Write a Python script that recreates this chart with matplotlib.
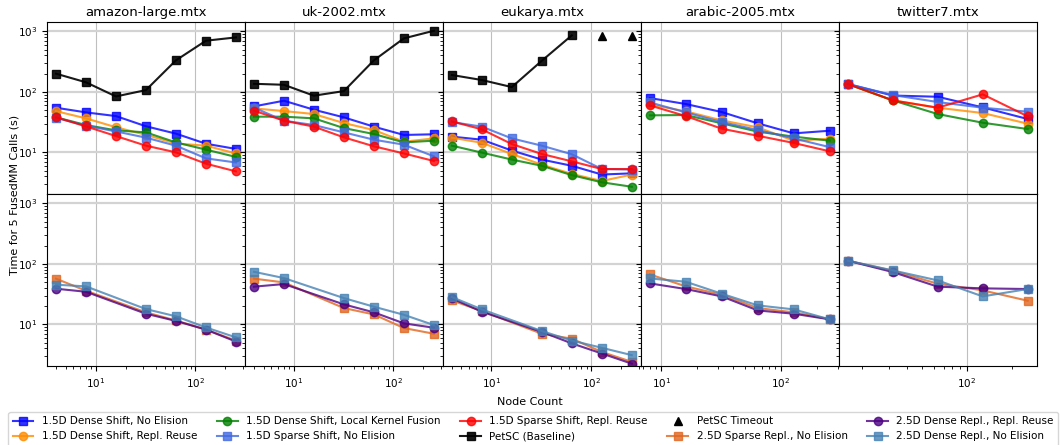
import matplotlib.pyplot as plt

# matrices (one column each)
matrices = ['amazon-large.mtx', 'uk-2002.mtx', 'eukarya.mtx', 'arabic-2005.mtx', 'twitter7.mtx']

# node counts per matrix
nodes_15d = {
    'amazon-large.mtx': [4, 8, 16, 32, 64, 128, 256],
    'uk-2002.mtx': [4, 8, 16, 32, 64, 128, 256],
    'eukarya.mtx': [4, 8, 16, 32, 64, 128, 256],
    'arabic-2005.mtx': [8, 16, 32, 64, 128, 256],
    'twitter7.mtx': [16, 32, 64, 128, 256],
}
nodes_25d = {
    'amazon-large.mtx': [4, 8, 32, 64, 128, 256],
    'uk-2002.mtx': [4, 8, 32, 64, 128, 256],
    'eukarya.mtx': [4, 8, 32, 64, 128, 256],
    'arabic-2005.mtx': [8, 16, 32, 64, 128, 256],
    'twitter7.mtx': [16, 32, 64, 128, 256],
}
nodes_petsc = {
    'amazon-large.mtx': [4, 8, 16, 32, 64, 128, 256],
    'uk-2002.mtx': [4, 8, 16, 32, 64, 128, 256],
    'eukarya.mtx': [4, 8, 16, 32, 64],
}
nodes_timeout = {'eukarya.mtx': [128, 256]}
timeout_value = 850

# 1.5D series (top row), seconds
dense_no_elision = {
    'amazon-large.mtx': [54.7, 45.8, 39.8, 27, 20.4, 13.9, 11.4],
    'uk-2002.mtx': [57.5, 71.4, 50.7, 37.9, 26.6, 19.4, 19.9],
    'eukarya.mtx': [18.2, 16.2, 10.7, 7.6, 6.0, 4.3, 4.5],
    'arabic-2005.mtx': [79, 63, 46.4, 30.2, 20.6, 22.8],
    'twitter7.mtx': [135, 87, 83, 55.4, 35.6],
}
dense_repl_reuse = {
    'amazon-large.mtx': [48, 36.5, 26, 19.5, 14, 12.9, 9.6],
    'uk-2002.mtx': [53.3, 48.2, 43, 30.5, 23.4, 15, 17],
    'eukarya.mtx': [17.5, 14.4, 9.4, 6.25, 4.4, 3.36, 4.3],
    'arabic-2005.mtx': [62, 47.6, 33.8, 25.9, 15.6, 16.8],
    'twitter7.mtx': [135, 72.4, 54.7, 44.7, 29.8],
}
dense_fusion = {
    'amazon-large.mtx': [38, 28.3, 23.1, 21.4, 14.6, 11.1, 8.4],
    'uk-2002.mtx': [38.9, 38.9, 36.5, 25.2, 20.1, 14.6, 15.6],
    'eukarya.mtx': [12.9, 9.9, 7.6, 6.0, 4.2, 3.2, 2.7],
    'arabic-2005.mtx': [40.9, 41.4, 30.2, 22, 18.2, 15.6],
    'twitter7.mtx': [135, 72.4, 43, 30.9, 24.3],
}
sparse_no_elision = {
    'amazon-large.mtx': [37.4, 27.6, 22.2, 17.5, 12.9, 7.96, 6.8],
    'uk-2002.mtx': [55, 33.4, 28.3, 21.4, 16.2, 13.4, 8.6],
    'eukarya.mtx': [31.7, 26.6, 17, 12.9, 9.3, 5.3, 5.2],
    'arabic-2005.mtx': [67, 45.8, 31.7, 23.4, 17, 12.2],
    'twitter7.mtx': [135, 88.7, 67.9, 54.7, 47],
}
sparse_repl_reuse = {
    'amazon-large.mtx': [38, 26.9, 18.6, 12.9, 10, 6.5, 4.85],
    'uk-2002.mtx': [48.9, 33.4, 26.6, 17.7, 12.6, 9.6, 7.2],
    'eukarya.mtx': [32.5, 24, 13.7, 9.4, 7.1, 5.3, 5.3],
    'arabic-2005.mtx': [59.8, 39.8, 24.6, 18.8, 14.3, 10.4],
    'twitter7.mtx': [135, 72.4, 54.7, 91, 39.4],
}
petsc = {
    'amazon-large.mtx': [200, 144, 84, 107, 332, 701, 795],
    'uk-2002.mtx': [136, 131, 86.5, 103, 332, 766, 1024],
    'eukarya.mtx': [190, 157, 120, 327, 859],
}

# 2.5D series (bottom row), seconds
sparse25_no_elision = {
    'amazon-large.mtx': [57, 36, 15.8, 11.6, 8.2, 5.4],
    'uk-2002.mtx': [57, 49.4, 18.6, 14.6, 8.7, 7.0],
    'eukarya.mtx': [24.9, 16.6, 7.0, 5.8, 3.5, 2.4],
    'arabic-2005.mtx': [67, 42.5, 30.9, 18.6, 15.8, 12.2],
    'twitter7.mtx': [113, 77, 47, 36.5, 24.6],
}
dense25_repl_reuse = {
    'amazon-large.mtx': [38.9, 34.6, 15, 11.4, 8.2, 5.2],
    'uk-2002.mtx': [42, 46.4, 21.4, 15.8, 10.4, 8.8],
    'eukarya.mtx': [26.9, 16.2, 7.5, 4.85, 3.3, 2.24],
    'arabic-2005.mtx': [47.6, 38.4, 29, 17, 15, 12.1],
    'twitter7.mtx': [113, 73.3, 42, 39.4, 38.4],
}
dense25_no_elision = {
    'amazon-large.mtx': [45.3, 42.5, 17.9, 13.6, 8.9, 6.1],
    'uk-2002.mtx': [74, 58.3, 27.2, 19.6, 14.4, 9.75],
    'eukarya.mtx': [28.3, 17.7, 7.76, 5.4, 4.1, 3.1],
    'arabic-2005.mtx': [57.5, 50.7, 32.1, 20.6, 17.7, 12.1],
    'twitter7.mtx': [113, 78, 53.3, 29, 38.4],
}

top_series = [
    (dense_no_elision, '1.5D Dense Shift, No Elision', 'blue', 's'),
    (dense_repl_reuse, '1.5D Dense Shift, Repl. Reuse', 'darkorange', 'o'),
    (dense_fusion, '1.5D Dense Shift, Local Kernel Fusion', 'green', 'o'),
    (sparse_no_elision, '1.5D Sparse Shift, No Elision', 'royalblue', 's'),
    (sparse_repl_reuse, '1.5D Sparse Shift, Repl. Reuse', 'red', 'o'),
]
bottom_series = [
    (sparse25_no_elision, '2.5D Sparse Repl., No Elision', '#e0661f', 's'),
    (dense25_repl_reuse, '2.5D Dense Repl., Repl. Reuse', 'indigo', 'o'),
    (dense25_no_elision, '2.5D Dense Repl., No Elision', 'steelblue', 's'),
]

fig, axes = plt.subplots(2, 5, figsize=(10.6, 4.45), dpi=100, sharex='col', sharey=True)
fig.subplots_adjust(left=0.0443, right=0.978, top=0.9506, bottom=0.1775, wspace=0, hspace=0)

handles = {}
for j, m in enumerate(matrices):
    ax_top = axes[0, j]
    ax_bot = axes[1, j]
    for data, label, color, marker in top_series:
        h, = ax_top.plot(nodes_15d[m], data[m], marker=marker, color=color, label=label,
                         lw=1.5, ms=6, alpha=0.8)
        handles.setdefault(label, h)
    if m in petsc:
        h, = ax_top.plot(nodes_petsc[m], petsc[m], marker='s', color='black',
                         label='PetSC (Baseline)', lw=1.5, ms=6, alpha=0.9)
        handles.setdefault('PetSC (Baseline)', h)
    if m in nodes_timeout:
        h, = ax_top.plot(nodes_timeout[m], [timeout_value] * len(nodes_timeout[m]),
                         marker='^', color='black', ls='none', ms=6, label='PetSC Timeout')
        handles.setdefault('PetSC Timeout', h)
    for data, label, color, marker in bottom_series:
        h, = ax_bot.plot(nodes_25d[m], data[m], marker=marker, color=color, label=label,
                         lw=1.5, ms=6, alpha=0.8)
        handles.setdefault(label, h)
    ax_top.set_title(m, fontsize=9.5, pad=4)
    for ax in (ax_top, ax_bot):
        ax.set_xscale('log')
        ax.set_yscale('log')
        ax.grid(axis='x', which='major', color='gray', alpha=0.5, lw=0.8)
        ax.grid(axis='y', which='major', color='lightgray', lw=1.6)
        ax.tick_params(labelsize=7.5)

axes[0, 0].set_ylim(2.05, 1430)

fig.supylabel('Time for 5 FusedMM Calls (s)', x=0.009, y=0.562, fontsize=8)
fig.supxlabel('Node Count', y=0.085, fontsize=8)

order = ['1.5D Dense Shift, No Elision', '1.5D Dense Shift, Repl. Reuse',
         '1.5D Dense Shift, Local Kernel Fusion', '1.5D Sparse Shift, No Elision',
         '1.5D Sparse Shift, Repl. Reuse', 'PetSC (Baseline)', 'PetSC Timeout',
         '2.5D Sparse Repl., No Elision', '2.5D Dense Repl., Repl. Reuse',
         '2.5D Dense Repl., No Elision']
fig.legend([handles[k] for k in order], order, ncol=5, loc='upper left',
           bbox_to_anchor=(0.008, 0.074, 0.99, 0), mode='expand', fontsize=7.5,
           frameon=True, borderaxespad=0)

plt.savefig('out.png', dpi=100)
